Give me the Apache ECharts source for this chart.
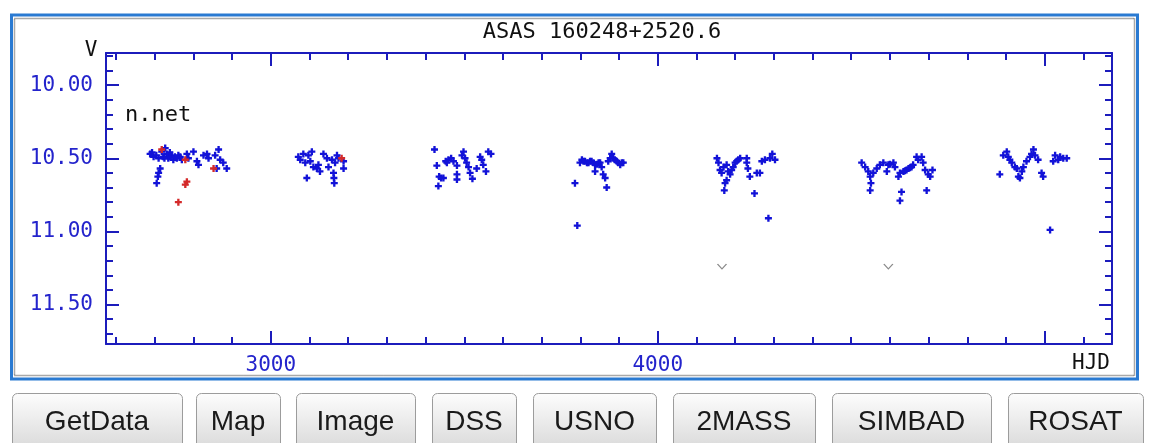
<!DOCTYPE html>
<html>
<head>
<meta charset="utf-8">
<script src="https://cdn.jsdelivr.net/npm/echarts@6/dist/echarts.min.js"></script>
<style>
html,body{margin:0;padding:0;background:#fff;}
#chart{width:1152px;height:443px;}
</style>
</head>
<body>
<div id="chart"></div>
<script>
// ---------- data ----------
const chartTitle = 'ASAS 160248+2520.6';
const yAxisName = 'V';
const xAxisName = 'HJD';
const noteText = 'n.net';

const xMajorTicks = [3000, 4000, 5000];
const xMinorTicks = [2600,2700,2800,2900,3100,3200,3300,3400,3500,3600,3700,3800,3900,4100,4200,4300,4400,4500,4600,4700,4800,4900,5000,5100];
const xTickLabels = [3000, 4000];
const yMajorTicks = [10.0, 10.5, 11.0, 11.5];
const yMinorTicks = [9.8,9.9,10.1,10.2,10.3,10.4,10.6,10.7,10.8,10.9,11.1,11.2,11.3,11.4,11.6,11.7];
const yTickLabels = [10.0, 10.5, 11.0, 11.5];

// blue points (HJD, V mag), per observing season
const season1 = [[2688,10.47],[2697,10.49],[2710,10.50],[2718,10.455],[2727,10.43],[2731,10.47],[2735,10.50],[2744,10.48],[2748,10.51],[2757,10.50],[2766,10.49],[2770,10.51],[2783,10.47],[2787,10.50],[2800,10.455],[2809,10.52],[2813,10.545],[2826,10.48],[2835,10.47],[2839,10.50],[2856,10.48],[2865,10.44],[2869,10.51],[2877,10.53],[2886,10.57],[2860,10.57],[2714,10.57],[2710,10.60],[2708,10.625],[2705,10.67],[2722,10.49],[2740,10.49],[2752,10.49],[2761,10.48],[2739,10.46],[2725,10.50],[2704,10.48],[2693,10.46]];
const season2 = [[3071,10.49],[3076,10.51],[3084,10.47],[3089,10.53],[3097,10.48],[3102,10.52],[3106,10.455],[3110,10.56],[3123,10.545],[3119,10.57],[3127,10.59],[3136,10.47],[3145,10.50],[3149,10.56],[3158,10.51],[3166,10.53],[3171,10.48],[3175,10.50],[3188,10.57],[3162,10.60],[3163,10.635],[3164,10.67],[3093,10.635],[3188,10.52]];
const season3 = [[3423,10.44],[3429,10.55],[3435,10.625],[3433,10.69],[3446,10.635],[3455,10.53],[3459,10.51],[3466,10.50],[3472,10.52],[3481,10.55],[3481,10.61],[3481,10.645],[3494,10.48],[3498,10.455],[3502,10.50],[3506,10.53],[3511,10.56],[3515,10.60],[3521,10.64],[3532,10.57],[3541,10.49],[3545,10.51],[3549,10.545],[3556,10.59],[3562,10.455],[3569,10.47],[3452,10.52],[3440,10.635]];
const season4 = [[3786,10.67],[3792,10.96],[3799,10.53],[3804,10.51],[3808,10.52],[3812,10.52],[3817,10.53],[3821,10.53],[3825,10.52],[3829,10.52],[3834,10.53],[3838,10.545],[3838,10.59],[3843,10.54],[3847,10.53],[3851,10.53],[3855,10.56],[3859,10.61],[3864,10.635],[3868,10.70],[3872,10.52],[3877,10.50],[3881,10.47],[3885,10.50],[3889,10.51],[3894,10.52],[3898,10.53],[3903,10.545],[3907,10.53],[3911,10.53]];
const season5 = [[4153,10.50],[4157,10.53],[4161,10.58],[4165,10.60],[4170,10.56],[4174,10.67],[4172,10.72],[4178,10.65],[4182,10.59],[4187,10.61],[4191,10.58],[4195,10.56],[4200,10.53],[4204,10.52],[4208,10.51],[4213,10.50],[4178,10.545],[4230,10.50],[4230,10.53],[4233,10.57],[4238,10.625],[4250,10.74],[4256,10.60],[4264,10.60],[4269,10.52],[4277,10.51],[4286,10.91],[4290,10.50],[4296,10.47],[4303,10.51]];
const season6 = [[4527,10.53],[4536,10.56],[4544,10.59],[4549,10.625],[4551,10.67],[4549,10.72],[4557,10.60],[4566,10.57],[4574,10.545],[4583,10.53],[4592,10.59],[4596,10.545],[4600,10.54],[4609,10.53],[4613,10.56],[4622,10.625],[4626,10.60],[4630,10.73],[4626,10.79],[4635,10.59],[4643,10.58],[4648,10.57],[4656,10.56],[4660,10.545],[4669,10.49],[4673,10.51],[4682,10.49],[4686,10.53],[4691,10.58],[4695,10.72],[4699,10.61],[4704,10.625],[4710,10.58],[4639,10.585],[4652,10.565]];
const season7 = [[4884,10.61],[4893,10.48],[4902,10.455],[4906,10.49],[4910,10.51],[4915,10.53],[4923,10.56],[4928,10.57],[4932,10.625],[4936,10.635],[4941,10.59],[4945,10.56],[4953,10.52],[4962,10.49],[4971,10.44],[4975,10.48],[4983,10.51],[4992,10.60],[4996,10.625],[5014,10.99],[5022,10.52],[5027,10.48],[5035,10.51],[5048,10.50],[5057,10.50],[4966,10.47],[5040,10.49]];
// red points
const redPoints = [[2718,10.44],[2783,10.66],[2779,10.68],[2761,10.80],[2852,10.57],[2779,10.51],[3183,10.50]];
// grey upper-limit marks
const limitPoints = [[4166,11.24],[4596,11.24]];

const buttonLabels = ['GetData','Map','Image','DSS','USNO','2MASS','SIMBAD','ROSAT'];

// ---------- layout / style ----------
const buttonBoxes = [[12,182],[196,280],[296,415],[432,516],[533,656],[673,815],[832,991],[1008,1143]];
const AX = '#1c1cbc';
const LBL = '#2424cc';
const MONO = '"DejaVu Sans Mono", monospace';
const plus = 'path://M2,0L4,0L4,2L6,2L6,4L4,4L4,6L2,6L2,4L0,4L0,2L2,2Z';
const vee = 'path://M0,0L5,5L10,0';

const chart = echarts.init(document.getElementById('chart'), null, {renderer: 'canvas'});

function xAx(pos, ticks, len, showLine, labels) {
  return {
    type: 'value', gridIndex: 0, position: pos, min: 2574, max: 5174,
    axisLine: {show: showLine, onZero: false, lineStyle: {color: AX, width: 2}},
    splitLine: {show: false},
    axisTick: {show: true, inside: true, length: len, customValues: ticks, lineStyle: {color: AX, width: 2}},
    axisLabel: labels ? {show: true, customValues: labels, margin: 11, color: LBL, fontFamily: MONO, fontSize: 21, formatter: v => String(v)} : {show: false}
  };
}
function yAx(pos, ticks, len, showLine, labels) {
  return {
    type: 'value', gridIndex: 0, position: pos, min: 9.78, max: 11.77, inverse: true,
    axisLine: {show: showLine, onZero: false, lineStyle: {color: AX, width: 2}},
    splitLine: {show: false},
    axisTick: {show: true, inside: true, length: len, customValues: ticks, lineStyle: {color: AX, width: 2}},
    axisLabel: labels ? {show: true, customValues: labels, margin: 13, color: LBL, fontFamily: MONO, fontSize: 21, formatter: v => v.toFixed(2)} : {show: false}
  };
}

const graphics = [
  {type: 'rect', z: 1, silent: true, shape: {x: 11.5, y: 15, width: 1126, height: 364}, style: {fill: 'none', stroke: '#2a7ad2', lineWidth: 3}},
  {type: 'rect', z: 1, silent: true, shape: {x: 14.5, y: 18.5, width: 1120, height: 357}, style: {fill: 'none', stroke: '#555', lineWidth: 1.5, lineDash: [1, 1]}},
  {type: 'text', z: 10, style: {text: chartTitle, x: 602, y: 32, textAlign: 'center', textVerticalAlign: 'middle', font: '22px ' + MONO, fill: '#111'}},
  {type: 'text', z: 10, style: {text: yAxisName, x: 91, y: 51, textAlign: 'center', textVerticalAlign: 'middle', font: '21px ' + MONO, fill: '#111'}},
  {type: 'text', z: 10, style: {text: noteText, x: 125, y: 115, textAlign: 'left', textVerticalAlign: 'middle', font: '22px ' + MONO, fill: '#111'}},
  {type: 'text', z: 10, style: {text: xAxisName, x: 1110, y: 364, textAlign: 'right', textVerticalAlign: 'middle', font: '21px ' + MONO, fill: '#111'}}
];
buttonLabels.forEach((t, i) => {
  const [x0, x1] = buttonBoxes[i];
  graphics.push({type: 'rect', z: 5, shape: {x: x0 + 0.5, y: 393.5, width: x1 - x0, height: 56, r: 5},
    style: {fill: new echarts.graphic.LinearGradient(0, 0, 0, 1, [{offset: 0, color: '#fdfdfd'}, {offset: 1, color: '#d9d9d9'}]), stroke: '#9c9c9c', lineWidth: 1}});
  graphics.push({type: 'text', z: 6, style: {text: t, x: (x0 + x1) / 2, y: 422, textAlign: 'center', textVerticalAlign: 'middle', font: '28px "Liberation Sans", Arial, sans-serif', fill: '#1a1a1a'}});
});

const blueAll = [].concat(season1, season2, season3, season4, season5, season6, season7);

chart.setOption({
  animation: false,
  backgroundColor: '#fff',
  grid: {left: 106, top: 53, width: 1006, height: 291, containLabel: false},
  xAxis: [
    xAx('bottom', xMajorTicks, 13, true, xTickLabels),
    xAx('bottom', xMinorTicks, 7, false, null),
    xAx('top', xMajorTicks, 13, true, null),
    xAx('top', xMinorTicks, 7, false, null)
  ],
  yAxis: [
    yAx('left', yMajorTicks, 13, true, yTickLabels),
    yAx('left', yMinorTicks, 7, false, null),
    yAx('right', yMajorTicks, 13, true, null),
    yAx('right', yMinorTicks, 7, false, null)
  ],
  graphic: {elements: graphics},
  series: [
    {type: 'scatter', xAxisIndex: 0, yAxisIndex: 0, data: blueAll, symbol: plus, symbolSize: 7, itemStyle: {color: '#1212d8', opacity: 1}, z: 3},
    {type: 'scatter', xAxisIndex: 0, yAxisIndex: 0, data: redPoints, symbol: plus, symbolSize: 7, itemStyle: {color: '#d42a2a', opacity: 1}, z: 4},
    {type: 'scatter', xAxisIndex: 0, yAxisIndex: 0, data: limitPoints, symbol: vee, symbolSize: [9, 5], itemStyle: {color: 'none', borderColor: '#8a8a8a', borderWidth: 1, opacity: 1}, z: 3}
  ]
});
</script>
</body>
</html>
